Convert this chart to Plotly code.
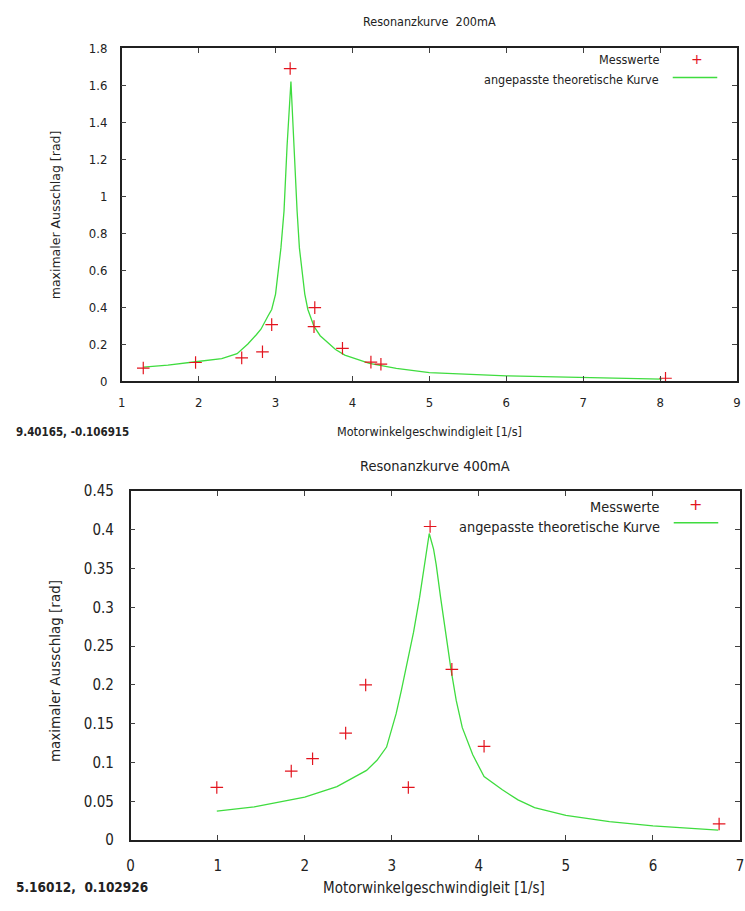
import plotly.graph_objects as go

W, H = 745, 911

# ---------------- data: 200 mA ----------------
top_meas_x = [1.28, 1.96, 2.56, 2.83, 2.95, 3.19, 3.50, 3.51, 3.87, 4.24, 4.37, 8.07]
top_meas_y = [0.070, 0.100, 0.125, 0.158, 0.305, 1.69, 0.294, 0.397, 0.177, 0.102, 0.091, 0.015]
top_fit_x = [1.28, 1.6, 1.96, 2.3, 2.5, 2.64, 2.75, 2.81, 2.90, 2.95, 3.0, 3.03, 3.07, 3.11, 3.15, 3.20,
             3.235, 3.28, 3.31, 3.35, 3.38, 3.42, 3.50, 3.58, 3.67, 3.78, 3.90, 4.22, 4.57,
             5.0, 6.0, 7.0, 8.02]
top_fit_y = [0.075, 0.086, 0.104, 0.121, 0.148, 0.20, 0.25, 0.28, 0.35, 0.387, 0.47, 0.565, 0.72, 0.919, 1.274, 1.62,
             1.274, 0.919, 0.72, 0.565, 0.47, 0.387, 0.295, 0.245, 0.21, 0.17, 0.14, 0.095, 0.068,
             0.045, 0.028, 0.018, 0.010]

# ---------------- data: 400 mA ----------------
bot_meas_x = [0.99, 1.845, 2.09, 2.47, 2.70, 3.19, 3.44, 3.69, 4.06, 6.76]
bot_meas_y = [0.068, 0.089, 0.105, 0.138, 0.200, 0.068, 0.404, 0.220, 0.121, 0.021]
bot_fit_x = [0.99, 1.42, 2.0, 2.37, 2.71, 2.83, 2.94, 2.98, 3.05, 3.11, 3.17, 3.25, 3.32, 3.375, 3.40, 3.43,
             3.48, 3.51, 3.56, 3.62, 3.68, 3.74, 3.81, 3.93, 4.06, 4.27, 4.45, 4.64,
             5.0, 5.5, 6.0, 6.75]
bot_fit_y = [0.0375, 0.043, 0.0556, 0.069, 0.09, 0.103, 0.12, 0.135, 0.163, 0.193, 0.225, 0.268, 0.313, 0.355, 0.375, 0.395,
             0.375, 0.355, 0.313, 0.265, 0.22, 0.18, 0.145, 0.11, 0.082, 0.065, 0.052, 0.042,
             0.032, 0.024, 0.0185, 0.013]

top_title = "Resonanzkurve  200mA"
bot_title = "Resonanzkurve 400mA"
x_title = "Motorwinkelgeschwindigleit [1/s]"
y_title = "maximaler Ausschlag [rad]"
leg_meas = "Messwerte"
leg_fit = "angepasste theoretische Kurve"
top_coord = "9.40165, -0.106915"
bot_coord = "5.16012,  0.102926"

RED = "#e3141e"
GREEN = "#3fdc3f"
NARROW = "DejaVu Sans Condensed, Liberation Sans Narrow, Arial Narrow, sans-serif"
WIDE = "DejaVu Sans, Verdana, sans-serif"


def px(x):
    return x / W


def py(y):
    return 1 - y / H


fig = go.Figure()

marker = dict(symbol="cross-thin", size=9, line=dict(width=1.2, color=RED), color=RED)

fig.add_trace(go.Scatter(x=top_fit_x, y=top_fit_y, mode="lines", line=dict(color=GREEN, width=1.3),
                         xaxis="x", yaxis="y", showlegend=False))
fig.add_trace(go.Scatter(x=top_meas_x, y=top_meas_y, mode="markers", marker=marker,
                         xaxis="x", yaxis="y", showlegend=False))
fig.add_trace(go.Scatter(x=bot_fit_x, y=bot_fit_y, mode="lines", line=dict(color=GREEN, width=1.3),
                         xaxis="x2", yaxis="y2", showlegend=False))
fig.add_trace(go.Scatter(x=bot_meas_x, y=bot_meas_y, mode="markers", marker=marker,
                         xaxis="x2", yaxis="y2", showlegend=False))

axis_common = dict(showline=True, linecolor="#202020", linewidth=1.5, mirror="ticks",
                   ticks="inside", ticklen=5, tickcolor="#404040", tickwidth=1,
                   showgrid=False, zeroline=False, fixedrange=True)

fig.update_layout(
    width=W, height=H,
    margin=dict(l=0, r=0, t=0, b=0),
    paper_bgcolor="white", plot_bgcolor="white",
    showlegend=False,
    xaxis=dict(domain=[px(119), px(741)], range=[1, 9], dtick=1, anchor="y",
               tickfont=dict(family=NARROW, size=13, color="#222"), ticklabelstandoff=9, **axis_common),
    yaxis=dict(domain=[py(379.5), py(40)], range=[0, 1.8], dtick=0.2, anchor="x",
               tickfont=dict(family=NARROW, size=13, color="#222"), ticklabelstandoff=10, **axis_common),
    xaxis2=dict(domain=[px(128), px(744)], range=[0, 7], dtick=1, anchor="y2",
                tickfont=dict(family=NARROW, size=15, color="#222"), ticklabelstandoff=11, **axis_common),
    yaxis2=dict(domain=[py(848), py(491.5)], range=[0, 0.45], dtick=0.05, anchor="x2",
                tickfont=dict(family=NARROW, size=15, color="#222"), ticklabelstandoff=12, **axis_common),
)

ann = []


def text(x, y, s, size, family=NARROW, xanchor="center", angle=0, bold=False, color="#222"):
    ann.append(dict(x=px(x), y=py(y), xref="paper", yref="paper", text=("<b>%s</b>" % s) if bold else s,
                    showarrow=False, xanchor=xanchor, yanchor="middle", textangle=angle,
                    font=dict(family=family, size=size, color=color)))


# titles
text(430, 13, top_title, 12.5)
text(436, 466, bot_title, 14.5)
# axis titles
text(430, 431, x_title, 12.5)
text(435, 897, x_title, 15)
text(52, 210, y_title, 12.5, family=WIDE, angle=-90)
text(51, 675, y_title, 13.5, family=WIDE, angle=-90)
# coordinate readouts
text(10, 432, top_coord, 11.5, xanchor="left", bold=True)
text(10, 896, bot_coord, 13.5, xanchor="left", bold=True)
# legends (text left of symbol, gnuplot style)
text(664, 52, leg_meas, 12.5, xanchor="right")
text(664, 72, leg_fit, 12.5, xanchor="right")
text(665, 508, leg_meas, 14.4, xanchor="right")
text(665, 528, leg_fit, 14.4, xanchor="right")
text(700.5, 50.5, "+", 14, family=WIDE, color=RED)
text(699, 505, "+", 16, family=WIDE, color=RED)

shapes = [
    dict(type="line", xref="paper", yref="paper", x0=px(676), x1=px(721), y0=py(70), y1=py(70),
         line=dict(color=GREEN, width=1.5)),
    dict(type="line", xref="paper", yref="paper", x0=px(677), x1=px(722), y0=py(524), y1=py(524),
         line=dict(color=GREEN, width=1.5)),
]

fig.update_layout(annotations=ann, shapes=shapes)

fig.write_html("out.html", config={"displayModeBar": False},
               post_script="document.body.style.margin='0';document.body.style.overflow='hidden';")
